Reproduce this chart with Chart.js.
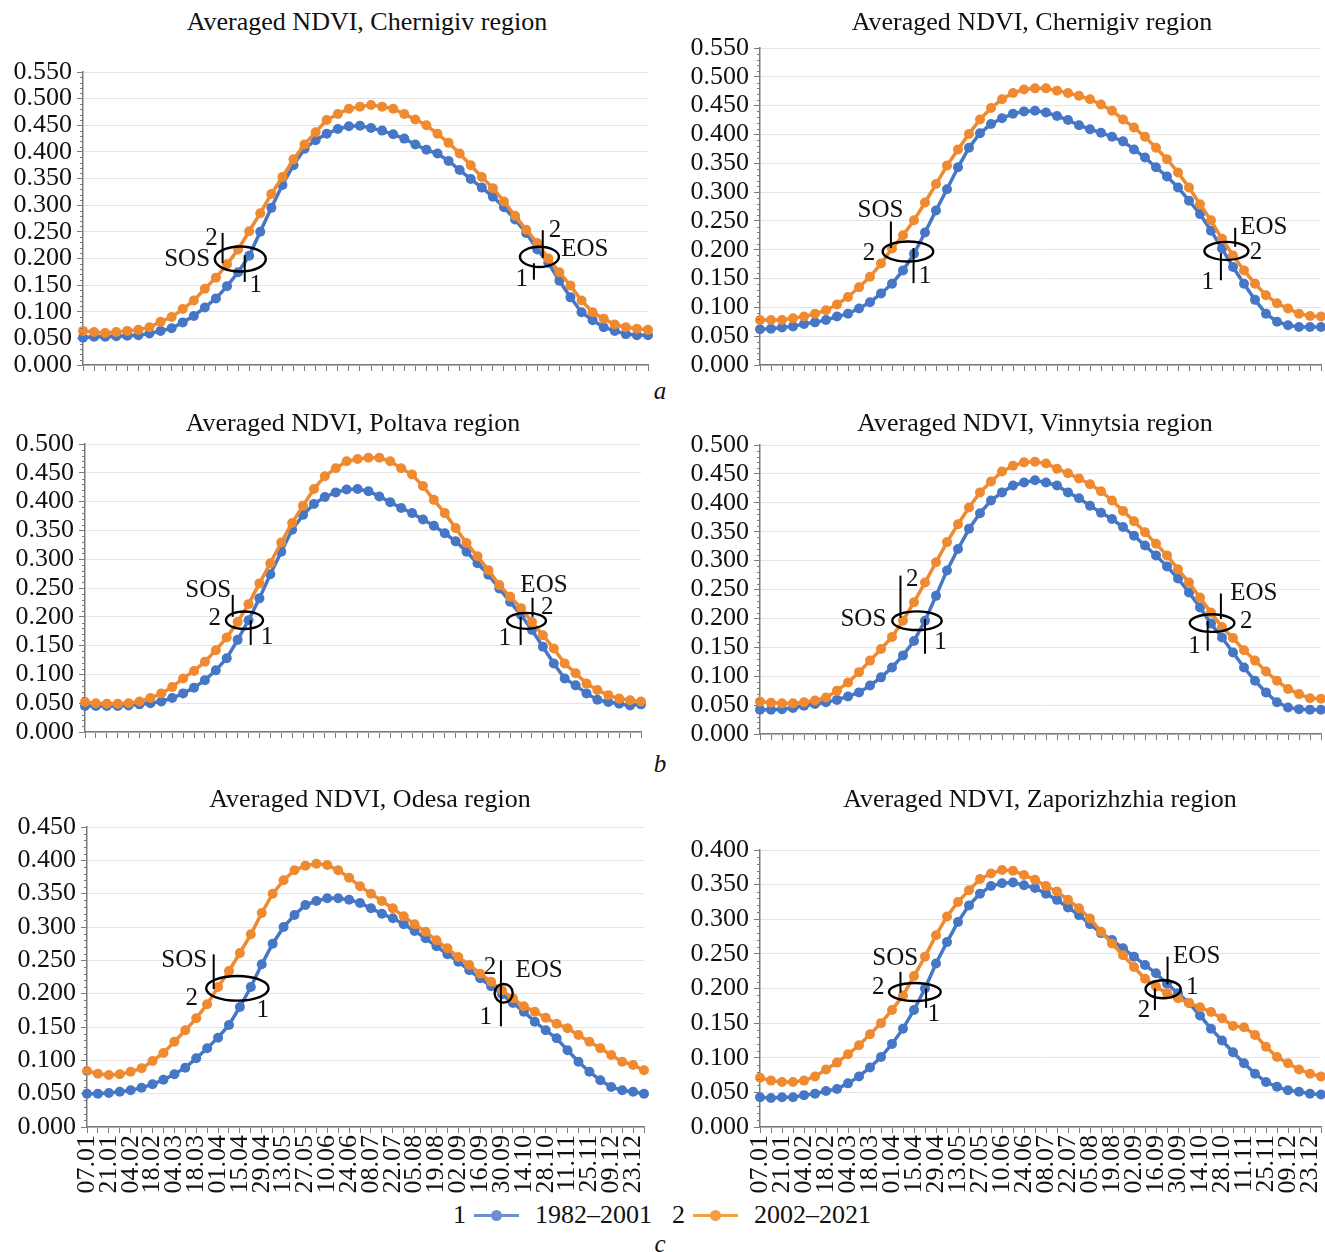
<!DOCTYPE html>
<html>
<head>
<meta charset="utf-8">
<title>Averaged NDVI</title>
<script src="https://cdn.jsdelivr.net/npm/chart.js@4.4.1/dist/chart.umd.min.js"></script>
<style>
    body {
        margin: 0;
        width: 1325px;
        height: 1252px;
        overflow: hidden;
        background: #fff;
        position: relative;
        font-family: "Liberation Serif", "Times New Roman", serif;
        color: #111;
    }
    canvas { position: absolute; }
    .title, .letter {
        position: absolute;
        white-space: nowrap;
        transform: translate(-50%, -50%);
        line-height: 1;
    }
    .title { font-size: 26px; }
    .letter { font-size: 25px; font-style: italic; }
    #legend {
        position: absolute;
        left: 662px;
        top: 1215px;
        transform: translate(-50%, -50%);
        display: flex;
        align-items: center;
        font-size: 26px;
        white-space: nowrap;
        line-height: 1;
    }
    .swatch {
        position: relative;
        width: 45px;
        height: 3px;
        margin: 0 16px 0 8px;
    }
    .swatch::after {
        content: '';
        position: absolute;
        left: 17px;
        top: -4px;
        width: 11px;
        height: 11px;
        border-radius: 50%;
        background: inherit;
    }
</style>
</head>
<body>

<div id="legend">
    <span>1</span><span class="swatch" style="background:#6d8ed0"></span><span>1982–2001</span>
    <span style="margin-left:20px">2</span><span class="swatch" style="background:#f4a040"></span><span>2002–2021</span>
</div>
<div class="letter" style="left:660px;top:390px">a</div>
<div class="letter" style="left:660px;top:763px">b</div>
<div class="letter" style="left:660px;top:1243px">c</div>

<script>
// weekly dates, every second one is labelled
const dates = ['07.01', '14.01', '21.01', '28.01', '04.02', '11.02', '18.02', '25.02', '04.03', '11.03',
    '18.03', '25.03', '01.04', '08.04', '15.04', '22.04', '29.04', '06.05', '13.05', '20.05',
    '27.05', '03.06', '10.06', '17.06', '24.06', '01.07', '08.07', '15.07', '22.07', '29.07',
    '05.08', '12.08', '19.08', '26.08', '02.09', '09.09', '16.09', '23.09', '30.09', '07.10',
    '14.10', '21.10', '28.10', '04.11', '11.11', '18.11', '25.11', '02.12', '09.12', '16.12',
    '23.12', '30.12'];

const seriesNames = ['1982–2001', '2002–2021'];

const chernigivA_1982 = [0.051, 0.053, 0.053, 0.054, 0.055, 0.056, 0.059, 0.064, 0.069, 0.080,
    0.092, 0.108, 0.125, 0.148, 0.174, 0.205, 0.250, 0.295, 0.338, 0.375,
    0.406, 0.422, 0.434, 0.443, 0.448, 0.449, 0.445, 0.440, 0.433, 0.425,
    0.414, 0.404, 0.397, 0.383, 0.366, 0.349, 0.333, 0.316, 0.296, 0.273,
    0.248, 0.217, 0.192, 0.158, 0.127, 0.099, 0.084, 0.071, 0.064, 0.058,
    0.056, 0.056];
const chernigivA_2002 = [0.064, 0.062, 0.060, 0.062, 0.064, 0.066, 0.071, 0.081, 0.090, 0.105,
    0.121, 0.143, 0.164, 0.189, 0.217, 0.251, 0.285, 0.321, 0.353, 0.386,
    0.414, 0.437, 0.460, 0.471, 0.481, 0.485, 0.488, 0.485, 0.481, 0.471,
    0.461, 0.450, 0.434, 0.417, 0.397, 0.375, 0.353, 0.332, 0.307, 0.280,
    0.254, 0.229, 0.200, 0.174, 0.149, 0.121, 0.099, 0.087, 0.076, 0.071,
    0.068, 0.066];

const chernigivB_1982 = [0.062, 0.063, 0.065, 0.067, 0.071, 0.074, 0.078, 0.084, 0.089, 0.098,
    0.109, 0.124, 0.141, 0.164, 0.193, 0.230, 0.268, 0.305, 0.343, 0.377,
    0.402, 0.418, 0.428, 0.436, 0.440, 0.441, 0.438, 0.432, 0.425, 0.416,
    0.409, 0.403, 0.396, 0.388, 0.374, 0.360, 0.343, 0.327, 0.308, 0.285,
    0.262, 0.233, 0.202, 0.170, 0.141, 0.113, 0.089, 0.075, 0.069, 0.066,
    0.066, 0.066];
const chernigivB_2002 = [0.078, 0.078, 0.078, 0.081, 0.084, 0.089, 0.095, 0.105, 0.118, 0.135,
    0.153, 0.176, 0.202, 0.225, 0.251, 0.282, 0.314, 0.346, 0.374, 0.401,
    0.426, 0.446, 0.461, 0.472, 0.478, 0.480, 0.480, 0.476, 0.472, 0.467,
    0.461, 0.452, 0.441, 0.426, 0.412, 0.396, 0.377, 0.357, 0.334, 0.308,
    0.279, 0.251, 0.219, 0.190, 0.164, 0.141, 0.121, 0.107, 0.098, 0.089,
    0.085, 0.084];

const poltava_1982 = [0.045, 0.045, 0.045, 0.045, 0.046, 0.048, 0.050, 0.053, 0.059, 0.067,
    0.077, 0.090, 0.107, 0.128, 0.160, 0.194, 0.232, 0.274, 0.313, 0.351,
    0.377, 0.396, 0.408, 0.416, 0.421, 0.422, 0.418, 0.409, 0.399, 0.389,
    0.380, 0.369, 0.358, 0.345, 0.331, 0.313, 0.293, 0.273, 0.249, 0.226,
    0.203, 0.177, 0.148, 0.119, 0.093, 0.081, 0.067, 0.056, 0.052, 0.049,
    0.046, 0.048];
const poltava_2002 = [0.052, 0.050, 0.049, 0.049, 0.050, 0.053, 0.059, 0.067, 0.078, 0.093,
    0.106, 0.122, 0.142, 0.164, 0.191, 0.222, 0.258, 0.293, 0.329, 0.363,
    0.393, 0.422, 0.444, 0.458, 0.470, 0.474, 0.476, 0.476, 0.470, 0.458,
    0.447, 0.427, 0.403, 0.380, 0.354, 0.328, 0.305, 0.281, 0.255, 0.235,
    0.215, 0.191, 0.168, 0.145, 0.119, 0.102, 0.084, 0.073, 0.064, 0.058,
    0.055, 0.053];

const vinnytsia_1982 = [0.042, 0.042, 0.043, 0.045, 0.049, 0.052, 0.055, 0.059, 0.065, 0.072,
    0.084, 0.098, 0.115, 0.136, 0.161, 0.196, 0.239, 0.283, 0.320, 0.355,
    0.382, 0.404, 0.418, 0.430, 0.435, 0.439, 0.435, 0.430, 0.418, 0.408,
    0.395, 0.383, 0.372, 0.358, 0.343, 0.326, 0.309, 0.290, 0.269, 0.245,
    0.219, 0.191, 0.167, 0.141, 0.115, 0.092, 0.072, 0.055, 0.046, 0.043,
    0.042, 0.042];
const vinnytsia_2002 = [0.056, 0.054, 0.053, 0.053, 0.055, 0.058, 0.063, 0.075, 0.089, 0.107,
    0.127, 0.147, 0.168, 0.196, 0.228, 0.262, 0.297, 0.332, 0.363, 0.392,
    0.418, 0.437, 0.454, 0.464, 0.470, 0.471, 0.468, 0.459, 0.451, 0.442,
    0.432, 0.420, 0.404, 0.386, 0.368, 0.349, 0.329, 0.309, 0.285, 0.262,
    0.236, 0.210, 0.185, 0.166, 0.145, 0.127, 0.108, 0.092, 0.078, 0.069,
    0.062, 0.061];

const odesa_1982 = [0.050, 0.050, 0.051, 0.053, 0.055, 0.059, 0.064, 0.071, 0.079, 0.089,
    0.103, 0.118, 0.134, 0.153, 0.180, 0.210, 0.244, 0.275, 0.300, 0.318,
    0.333, 0.339, 0.343, 0.343, 0.341, 0.336, 0.328, 0.320, 0.313, 0.304,
    0.294, 0.283, 0.271, 0.259, 0.248, 0.235, 0.223, 0.211, 0.199, 0.186,
    0.173, 0.158, 0.145, 0.133, 0.115, 0.098, 0.083, 0.070, 0.060, 0.055,
    0.053, 0.050];
const odesa_2002 = [0.084, 0.080, 0.078, 0.079, 0.083, 0.088, 0.099, 0.111, 0.128, 0.145,
    0.163, 0.184, 0.210, 0.234, 0.261, 0.289, 0.321, 0.350, 0.370, 0.385,
    0.392, 0.395, 0.393, 0.385, 0.374, 0.361, 0.350, 0.339, 0.328, 0.316,
    0.304, 0.293, 0.280, 0.268, 0.255, 0.243, 0.230, 0.218, 0.205, 0.193,
    0.181, 0.173, 0.164, 0.155, 0.148, 0.138, 0.128, 0.118, 0.108, 0.098,
    0.093, 0.085];

const zaporizhzhia_1982 = [0.043, 0.042, 0.043, 0.043, 0.046, 0.048, 0.052, 0.055, 0.063, 0.073,
    0.086, 0.101, 0.120, 0.142, 0.169, 0.200, 0.236, 0.267, 0.296, 0.320,
    0.337, 0.348, 0.352, 0.353, 0.349, 0.345, 0.337, 0.328, 0.317, 0.306,
    0.293, 0.280, 0.270, 0.258, 0.246, 0.234, 0.222, 0.207, 0.193, 0.179,
    0.161, 0.142, 0.125, 0.108, 0.092, 0.077, 0.065, 0.058, 0.053, 0.051,
    0.048, 0.047];
const zaporizhzhia_2002 = [0.071, 0.067, 0.065, 0.065, 0.067, 0.073, 0.083, 0.093, 0.105, 0.118,
    0.134, 0.150, 0.169, 0.190, 0.218, 0.246, 0.277, 0.304, 0.325, 0.342,
    0.358, 0.366, 0.371, 0.370, 0.364, 0.357, 0.348, 0.340, 0.328, 0.316,
    0.301, 0.282, 0.265, 0.248, 0.231, 0.214, 0.203, 0.193, 0.186, 0.179,
    0.173, 0.166, 0.157, 0.146, 0.144, 0.133, 0.116, 0.101, 0.092, 0.083,
    0.077, 0.073];

// SOS / EOS marks, in chart units: x = week index, y = NDVI
// ellipses [x, y, rx, ry], lines [x, yFrom, yTo], texts [x, y, text]
const marksA1 = {
    ellipses: [[14.2, 0.199, 2.3, 0.0235], [41.2, 0.203, 1.76, 0.019]],
    lines: [[12.6, 0.191, 0.248], [14.6, 0.156, 0.206], [41.5, 0.201, 0.253], [40.7, 0.160, 0.191]],
    texts: [[9.4, 0.199, 'SOS'], [11.6, 0.238, '2'], [15.6, 0.150, '1'], [42.6, 0.253, '2'], [45.3, 0.216, 'EOS'], [39.6, 0.160, '1']]
};
const marksA2 = {
    ellipses: [[13.45, 0.197, 2.3, 0.0174], [42.4, 0.198, 2.0, 0.0156]],
    lines: [[11.9, 0.203, 0.249], [13.96, 0.142, 0.203], [43.2, 0.205, 0.238], [41.9, 0.147, 0.194]],
    texts: [[10.95, 0.269, 'SOS'], [9.9, 0.194, '2'], [15.0, 0.153, '1'], [45.8, 0.238, 'EOS'], [45.1, 0.196, '2'], [40.7, 0.144, '1']]
};
const marksB1 = {
    ellipses: [[14.63, 0.194, 1.7, 0.0153], [40.5, 0.193, 1.78, 0.0139]],
    lines: [[13.55, 0.200, 0.238], [15.2, 0.151, 0.194], [41.05, 0.200, 0.233], [39.96, 0.151, 0.200]],
    texts: [[11.3, 0.246, 'SOS'], [11.9, 0.197, '2'], [16.7, 0.165, '1'], [42.1, 0.255, 'EOS'], [42.4, 0.217, '2'], [38.5, 0.163, '1']]
};
const marksB2 = {
    ellipses: [[14.27, 0.196, 2.25, 0.0161], [41.1, 0.192, 2.03, 0.0153]],
    lines: [[12.77, 0.201, 0.274], [15.0, 0.139, 0.199], [41.9, 0.199, 0.243], [40.7, 0.144, 0.196]],
    texts: [[9.4, 0.199, 'SOS'], [13.85, 0.268, '2'], [16.4, 0.158, '1'], [44.9, 0.243, 'EOS'], [44.2, 0.195, '2'], [39.5, 0.151, '1']]
};
const marksC1 = {
    ellipses: [[13.77, 0.208, 2.86, 0.0185], [38.15, 0.2006, 0.83, 0.014]],
    lines: [[11.6, 0.207, 0.259], [37.9, 0.151, 0.250]],
    texts: [[8.9, 0.250, 'SOS'], [9.6, 0.193, '2'], [16.1, 0.175, '1'], [36.9, 0.240, '2'], [41.4, 0.235, 'EOS'], [36.5, 0.165, '1']]
};
const marksC2 = {
    ellipses: [[14.08, 0.195, 2.35, 0.013], [36.65, 0.199, 1.6, 0.013]],
    lines: [[12.77, 0.194, 0.224], [15.1, 0.172, 0.200], [37.05, 0.206, 0.246], [35.9, 0.169, 0.200]],
    texts: [[12.3, 0.2436, 'SOS'], [10.76, 0.2017, '2'], [15.8, 0.162, '1'], [39.7, 0.246, 'EOS'], [39.3, 0.202, '1'], [34.9, 0.169, '2']]
};

// plot boxes on the page (chart area edges) and title centres
const panels = [
    { title: 'Averaged NDVI, Chernigiv region', early: chernigivA_1982, late: chernigivA_2002, ymax: 0.55, marks: marksA1,
      x0: 83, x1: 648, y0: 72, y1: 365, tx: 367, ty: 22, dates: false },
    { title: 'Averaged NDVI, Chernigiv region', early: chernigivB_1982, late: chernigivB_2002, ymax: 0.55, marks: marksA2,
      x0: 760, x1: 1321, y0: 48, y1: 365, tx: 1032, ty: 22, dates: false },
    { title: 'Averaged NDVI, Poltava region', early: poltava_1982, late: poltava_2002, ymax: 0.5, marks: marksB1,
      x0: 85, x1: 641, y0: 444, y1: 732, tx: 353, ty: 423, dates: false },
    { title: 'Averaged NDVI, Vinnytsia region', early: vinnytsia_1982, late: vinnytsia_2002, ymax: 0.5, marks: marksB2,
      x0: 760, x1: 1321, y0: 445, y1: 734, tx: 1035, ty: 423, dates: false },
    { title: 'Averaged NDVI, Odesa region', early: odesa_1982, late: odesa_2002, ymax: 0.45, marks: marksC1,
      x0: 87, x1: 644, y0: 827, y1: 1127, tx: 370, ty: 799, dates: true },
    { title: 'Averaged NDVI, Zaporizhzhia region', early: zaporizhzhia_1982, late: zaporizhzhia_2002, ymax: 0.4, marks: marksC2,
      x0: 760, x1: 1321, y0: 850, y1: 1127, tx: 1040, ty: 799, dates: true }
];

const FONT = '"Liberation Serif", "Times New Roman", serif';
const BLUE = '#4677c6';
const ORANGE = '#ef8a30';
const AXIS = '#7a7a7a';

// minor ticks on the value axis + the SOS/EOS drawings
const ndviMarks = {
    id: 'ndviMarks',
    afterDraw(chart, args, opts) {
        const { ctx, scales: { x, y } } = chart;
        const left = chart.chartArea.left;
        ctx.save();
        ctx.strokeStyle = AXIS;
        ctx.lineWidth = 1;
        const max = y.max;
        for (let k = 1; k * 0.01 < max + 1e-9; k++) {
            if (k % 5 === 0) continue;
            const py = Math.round(y.getPixelForValue(k * 0.01)) + 0.5;
            ctx.beginPath();
            ctx.moveTo(left - 3, py);
            ctx.lineTo(left, py);
            ctx.stroke();
        }

        ctx.strokeStyle = '#000';
        ctx.lineWidth = 2.4;
        opts.ellipses.forEach(([cx, cy, rx, ry]) => {
            const px = x.getPixelForValue(cx);
            const py = y.getPixelForValue(cy);
            const prx = x.getPixelForValue(cx + rx) - px;
            const pry = y.getPixelForValue(cy - ry) - py;
            ctx.beginPath();
            ctx.ellipse(px, py, prx, pry, 0, 0, Math.PI * 2);
            ctx.stroke();
        });
        ctx.lineWidth = 2;
        opts.lines.forEach(([lx, ya, yb]) => {
            const px = x.getPixelForValue(lx);
            ctx.beginPath();
            ctx.moveTo(px, y.getPixelForValue(ya));
            ctx.lineTo(px, y.getPixelForValue(yb));
            ctx.stroke();
        });
        ctx.fillStyle = '#111';
        ctx.font = '25px ' + FONT;
        ctx.textAlign = 'center';
        ctx.textBaseline = 'middle';
        opts.texts.forEach(([tx, ty, t]) => {
            ctx.fillText(t, x.getPixelForValue(tx), y.getPixelForValue(ty));
        });
        ctx.restore();
    }
};

panels.forEach(p => {
    const padTop = 25, yW = 90, padRight = 6;
    const xH = p.dates ? 80 : 10;

    const canvas = document.createElement('canvas');
    const w = p.x1 - p.x0 + yW + padRight;
    const h = p.y1 - p.y0 + padTop + xH;
    canvas.width = w;
    canvas.height = h;
    canvas.style.left = (p.x0 - yW) + 'px';
    canvas.style.top = (p.y0 - padTop) + 'px';
    canvas.style.width = w + 'px';
    canvas.style.height = h + 'px';
    document.body.appendChild(canvas);

    const title = document.createElement('div');
    title.className = 'title';
    title.textContent = p.title;
    title.style.left = p.tx + 'px';
    title.style.top = p.ty + 'px';
    document.body.appendChild(title);

    new Chart(canvas.getContext('2d'), {
        type: 'line',
        data: {
            labels: dates,
            datasets: [{
                label: seriesNames[0],
                data: p.early,
                borderColor: BLUE,
                backgroundColor: BLUE,
                borderWidth: 3.5,
                pointRadius: 5,
                pointBorderWidth: 0,
                pointBackgroundColor: BLUE,
                tension: 0,
                order: 2
            }, {
                label: seriesNames[1],
                data: p.late,
                borderColor: ORANGE,
                backgroundColor: ORANGE,
                borderWidth: 3.5,
                pointRadius: 5,
                pointBorderWidth: 0,
                pointBackgroundColor: ORANGE,
                tension: 0,
                order: 1
            }]
        },
        options: {
            responsive: false,
            animation: false,
            devicePixelRatio: 1,
            layout: { padding: { left: 0, top: padTop, right: padRight, bottom: 0 } },
            plugins: {
                legend: { display: false },
                tooltip: { enabled: false },
                ndviMarks: p.marks
            },
            scales: {
                x: {
                    type: 'category',
                    offset: false,
                    grid: {
                        display: true,
                        drawOnChartArea: false,
                        drawTicks: true,
                        tickLength: 6,
                        tickColor: AXIS,
                        tickWidth: 1
                    },
                    border: { color: AXIS, width: 1.5 },
                    ticks: {
                        display: p.dates,
                        autoSkip: false,
                        minRotation: 90,
                        maxRotation: 90,
                        padding: 2,
                        color: '#111',
                        font: { family: FONT, size: 26 },
                        callback: (v, i) => (i % 2 === 0 ? dates[i] : '')
                    },
                    afterFit(s) {
                        s.height = xH;
                        s.paddingLeft = 0;
                        s.paddingRight = 0;
                    }
                },
                y: {
                    min: 0,
                    max: p.ymax,
                    grid: {
                        color: '#e5e5e5',
                        lineWidth: 1,
                        tickLength: 6,
                        tickColor: AXIS
                    },
                    border: { color: AXIS, width: 1.5 },
                    ticks: {
                        stepSize: 0.05,
                        autoSkip: false,
                        padding: 5,
                        color: '#111',
                        font: { family: FONT, size: 26 },
                        callback: v => v.toFixed(3)
                    },
                    afterFit(s) {
                        s.width = yW;
                        s.paddingTop = 0;
                        s.paddingBottom = 0;
                    }
                }
            }
        },
        plugins: [ndviMarks]
    });
});
</script>
</body>
</html>
